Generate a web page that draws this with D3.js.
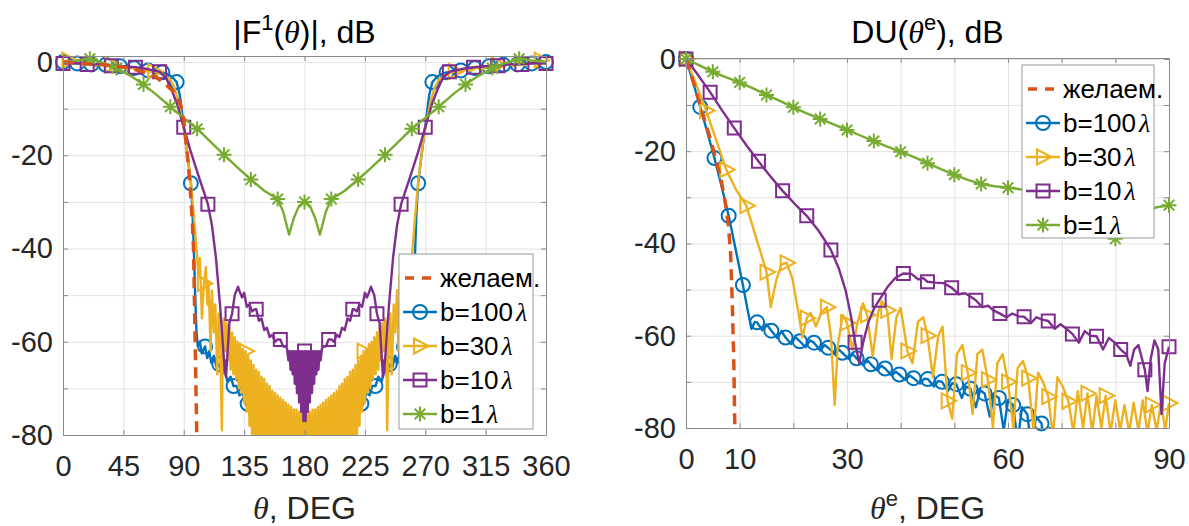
<!DOCTYPE html>
<html>
<head>
<meta charset="utf-8">
<script src="https://cdn.jsdelivr.net/npm/d3@7"></script>
<style>
  body { margin: 0; background: #fff; }
  svg { display: block; font-family: "Liberation Sans", Arial, sans-serif; }
</style>
</head>
<body>
<svg id="chart" width="1189" height="526"></svg>
<script>
// ---- ticks / labels ----
var dbTicks = [-80, -70, -60, -50, -40, -30, -20, -10, 0];
var dbLabels = [-80, -60, -40, -20, 0];
var thetaTicks = [0, 45, 90, 135, 180, 225, 270, 315, 360];
var thetaETicks = [0, 10, 20, 30, 40, 50, 60, 70, 80, 90];
var thetaELabels = [0, 10, 30, 60, 90];
var legendNames = ["желаем.", "b=100λ", "b=30λ", "b=10λ", "b=1λ"];

// ---- left panel: |F1(theta)|, dB ----
var fDesired = [[0,0],[15,-0.3],[30,-0.6],[45,-1.1],[55,-1.7],[62,-2.3],[68,-3],[73,-4],[78,-5.2],[82,-6.2],[85,-7.2],[88,-9.5],[90,-12.5],[92,-18],[94,-24],[95.5,-30],[96.5,-35],[97.3,-40],[98.5,-60],[99.7,-80]];

var f100 = [[0,0],[5,-0.2],[10.6,-0.3],[16,-0.2],[21.2,-0.5],[26,-0.4],[31.8,-0.6],[37,-0.6],[42.4,-0.9],[48,-1],[52.9,-1.3],[58,-1.4],[63.5,-1.8],[69,-1.9],[74.1,-2.2],[78,-2.6],[81,-3.1],[84.7,-4.3],[87,-7],[89,-11.5],[91,-16],[93,-20.5],[95.3,-26],[96.5,-32],[97.5,-40],[98.5,-50],[99.5,-58],[100.5,-61],[102,-60],[103.5,-62.5],[105.9,-61],[107.5,-63.5],[109,-62],[110.5,-64.5],[112.5,-63],[114.5,-65.5],[116.5,-64.8],[118.5,-67],[120.5,-66],[122.5,-68.5],[125,-67.5],[127.1,-69.5],[129.5,-69.5],[131.5,-71.5],[134,-71],[136.5,-73.5],[139,-73],[141.5,-76],[144,-75.5],[146.5,-79],[149,-78.5],[152,-82],[160,-84],[180,-86],[200,-84],[208,-82],[211,-78.5],[213.5,-79],[216,-75.5],[218.5,-76],[221,-73],[223.5,-73.5],[226,-71],[228.5,-71.5],[230.5,-69.5],[232.9,-69.5],[235,-67.5],[237.5,-68.5],[239.5,-66],[241.5,-67],[243.5,-64.8],[245.5,-65.5],[247.5,-63],[249.5,-64.5],[251,-62],[252.5,-63.5],[254.1,-61],[256.5,-62.5],[258,-60],[259.5,-61],[260.5,-58],[261.5,-50],[262.5,-40],[263.5,-32],[264.7,-26],[267,-20.5],[269,-16],[271,-11.5],[273,-7],[275.3,-4.3],[279,-3.1],[282,-2.6],[285.9,-2.2],[291,-1.9],[296.5,-1.8],[302,-1.4],[307.1,-1.3],[312,-1],[317.6,-0.9],[323,-0.6],[328.2,-0.6],[334,-0.4],[338.8,-0.5],[344,-0.2],[349.4,-0.3],[355,-0.2],[360,0]];
var f100Marks = [[0,0],[10.6,-0.3],[21.2,-0.5],[31.8,-0.6],[42.4,-0.9],[52.9,-1.3],[63.5,-1.8],[74.1,-2.2],[84.7,-4.3],[95.3,-26],[105.9,-61],[116.5,-64.8],[127.1,-69.5],[137.6,-73.3],[222.4,-73.3],[232.9,-69.5],[243.5,-64.8],[254.1,-61],[264.7,-26],[275.3,-4.3],[285.9,-2.2],[296.5,-1.8],[307.1,-1.3],[317.6,-0.9],[328.2,-0.6],[338.8,-0.5],[349.4,-0.3],[360,0]];

var f30 = [[0,0],[4,0.4],[8,-0.4],[12,0.1],[16,-0.7],[20,-0.1],[24,-0.9],[28,-0.3],[32,-1],[36,-0.6],[40,-1.3],[44,-0.9],[48,-1.6],[52,-1.2],[56,-1.9],[60,-1.6],[64,-2.1],[68,-2],[72,-2.4],[76,-2.9],[80,-3.8],[83,-5.5],[86,-8.5],[89,-12.5],[92,-18],[95,-25],[97.5,-33],[99.5,-40],[101,-46],[102,-42],[103.5,-55],[105,-47.5],[106.5,-44],[107.5,-52],[108.5,-47],[110,-62],[111,-49],[112.5,-58],[113.5,-52],[115,-67],[116,-54],[117.2,-61],[118.4,-79],[119.2,-56],
  [120,-55],[121,-62],[122,-56],[123,-64],[124,-57],[125,-66],[126,-58],[127,-67],[128,-59],[129,-68],[130,-60],[131,-70],[132,-60.5],[133,-71],[134,-61.5],[135,-73],[136,-62],[137,-75],[138,-63],[139,-78],[140,-64],[141,-82],[142,-65],[143,-84],[144,-66],[145,-85],[146,-66.5],[147,-86],[148,-67.5],[149,-86],[150,-68],[151,-87],[152,-69],[153,-87],[154,-69.5],[155,-88],[156,-70.5],[157,-88],[158,-71],[159,-88],[160,-71.5],[161,-88],[162,-72],[163,-88],[164,-72.5],[165,-88],[166,-73],[167,-88],[168,-73.5],[169,-88],[170,-74],[171,-88],[172,-74.5],[173,-88],[174,-74.5],[175,-88],[176,-75],[177,-88],[178,-75],[179,-88],[180,-75.5],
  [181,-88],[182,-75],[183,-88],[184,-75],[185,-88],[186,-74.5],[187,-88],[188,-74.5],[189,-88],[190,-74],[191,-88],[192,-73.5],[193,-88],[194,-73],[195,-88],[196,-72.5],[197,-88],[198,-72],[199,-88],[200,-71.5],[201,-88],[202,-71],[203,-88],[204,-70.5],[205,-88],[206,-69.5],[207,-87],[208,-69],[209,-87],[210,-68],[211,-86],[212,-67.5],[213,-86],[214,-66.5],[215,-85],[216,-66],[217,-84],[218,-65],[219,-82],[220,-64],[221,-78],[222,-63],[223,-75],[224,-62],[225,-73],[226,-61.5],[227,-71],[228,-60.5],[229,-70],[230,-60],[231,-68],[232,-59],[233,-67],[234,-58],[235,-66],[236,-57],[237,-64],[238,-56],[239,-62],[240,-55],
  [240.8,-56],[241.6,-79],[242.8,-61],[244,-54],[245,-67],[246.5,-52],[247.5,-58],[249,-49],[250,-62],[251.5,-47],[252.5,-52],[253.5,-44],[255,-47.5],[256.5,-55],[258,-42],[259,-46],[260.5,-40],[262.5,-33],[265,-25],[268,-18],[271,-12.5],[274,-8.5],[277,-5.5],[280,-3.8],[284,-2.9],[288,-2.4],[292,-2],[296,-2.1],[300,-1.6],[304,-1.9],[308,-1.2],[312,-1.6],[316,-0.9],[320,-1.3],[324,-0.6],[328,-1],[332,-0.3],[336,-0.9],[340,-0.1],[344,-0.7],[348,0.1],[352,-0.4],[356,0.4],[360,0]];
var f30Marks = [[4,0.4],[36,-0.6],[68,-2],[105,-47.5],[136,-62],[224,-62],[255,-47.5],[292,-2],[324,-0.6],[356,0.4]];

var f10 = [[0,-0.3],[9,-0.2],[18,-0.5],[27,-0.5],[36,-0.8],[45,-0.9],[54,-1.1],[63,-1.5],[72,-2.1],[77,-3.5],[81,-6],[85,-9],[90,-14],[95,-19],[100,-23.5],[104,-27],[108,-30.5],[111,-35],[114,-42],[117,-52],[119,-60],[120.5,-66],[121.5,-67.5],[122.5,-63],[124,-56],[126,-54],[128,-50],[130.5,-48.2],[132,-49.5],[133.5,-50.5],[135,-49.5],[137,-52.5],[139,-52],[141,-53.5],[143,-53],[144,-53],[146,-55.5],[148,-55],[150,-57.5],[152,-57],[154,-59],[156,-58.5],[158,-60],[160,-59.5],[162,-59.5],[164,-61],[166,-61],[167,-61.5],
  [168,-64],[168.8,-62],[169.6,-66],[170.4,-62],[171.2,-67],[172,-62],[172.8,-69],[173.6,-62],[174.4,-71],[175.2,-62],[176,-73],[176.8,-62],[177.6,-75],[178.4,-62],[179.2,-77],[180,-62],[180.8,-77],[181.6,-62],[182.4,-75],[183.2,-62],[184,-73],[184.8,-62],[185.6,-71],[186.4,-62],[187.2,-69],[188,-62],[188.8,-67],[189.6,-62],[190.4,-66],[191.2,-62],[192,-64],
  [193,-61.5],[194,-61],[196,-61],[198,-59.5],[200,-59.5],[202,-60],[204,-58.5],[206,-59],[208,-57],[210,-57.5],[212,-55],[214,-55.5],[216,-53],[217,-53],[219,-53.5],[221,-52],[223,-52.5],[225,-49.5],[226.5,-50.5],[228,-49.5],[229.5,-48.2],[232,-50],[234,-54],[236,-56],[237.5,-63],[238.5,-67.5],[239.5,-66],[241,-60],[243,-52],[246,-42],[249,-35],[252,-30.5],[256,-27],[260,-23.5],[265,-19],[270,-14],[275,-9],[279,-6],[283,-3.5],[288,-2.1],[297,-1.5],[306,-1.1],[315,-0.9],[324,-0.8],[333,-0.5],[342,-0.5],[351,-0.2],[360,-0.3]];
var f10Marks = [[0,-0.3],[18,-0.5],[36,-0.8],[54,-1.1],[72,-2.1],[90,-14],[108,-30.5],[126,-54],[144,-53],[162,-59.5],[180,-62],[198,-59.5],[216,-53],[234,-54],[252,-30.5],[270,-14],[288,-2.1],[306,-1.1],[324,-0.8],[342,-0.5],[360,-0.3]];

var f1 = [[0,0],[10,0.3],[20,0.7],[30,-0.2],[40,-1.3],[50,-2.9],[60,-4.8],[70,-7.1],[80,-9.6],[90,-12],[100,-14.3],[110,-17.1],[120,-19.9],[130,-22.6],[140,-25.2],[150,-27.6],[160,-29.4],[164,-32],[168.5,-37],[172,-33.5],[176,-30.8],[180,-30],[184,-30.8],[188,-33.5],[191.5,-37],[196,-32],[200,-29.4],[210,-27.6],[220,-25.2],[230,-22.6],[240,-19.9],[250,-17.1],[260,-14.3],[270,-12],[280,-9.6],[290,-7.1],[300,-4.8],[310,-2.9],[320,-1.3],[330,-0.2],[340,0.7],[350,0.3],[360,0]];
var f1Marks = [[20,0.7],[40,-1.3],[60,-4.8],[80,-9.6],[100,-14.3],[120,-19.9],[140,-25.2],[160,-29.4],[180,-30],[200,-29.4],[220,-25.2],[240,-19.9],[260,-14.3],[280,-9.6],[300,-4.8],[320,-1.3],[340,0.7]];

// ---- right panel: DU(theta_e), dB ----
var duDesired = [[0,0],[1.5,-5.5],[3,-11.5],[4.5,-17.2],[5.5,-21.5],[6.5,-26],[7.3,-31],[7.9,-36],[8.3,-42],[8.6,-52],[8.9,-65],[9.1,-80]];

var du100 = [[0,0],[1.3,-5],[2.65,-10.4],[4,-16],[5.3,-21.5],[6.6,-27.5],[7.95,-34],[9.2,-41],[10.6,-49],[11.5,-54.5],[12.2,-58.5],[12.8,-57],[13.25,-57.1],[14.2,-58.8],[15,-57.5],[15.9,-58.9],[17,-60.5],[17.8,-59],[18.55,-60.4],[19.6,-61.8],[20.4,-60.3],[21.2,-61.2],[22.3,-62.5],[23.1,-61],[23.85,-61.5],[25,-63.2],[25.8,-62],[26.5,-62.6],[27.7,-64],[28.5,-63],[29.15,-63.7],[30.3,-65],[31.1,-64],[31.8,-64.9],[33,-66.4],[33.8,-65.3],[34.45,-66.2],[35.6,-67.5],[36.4,-66.5],[37.1,-67.1],[38.3,-68.6],[39.1,-67.8],[39.75,-68.4],[40.9,-69.6],[41.7,-68.6],[42.4,-69.2],[43.6,-70.4],[44.4,-69.3],[45.05,-69.4],[46.2,-71],[47,-69.8],[47.7,-70],[48.8,-72],[49.6,-70.3],[50.35,-70.5],[51.4,-73.5],[52.2,-71],[53,-71.5],[54,-75.5],[54.8,-71.8],[55.65,-72.5],[56.6,-77.5],[57.4,-72.8],[58.3,-73.5],[59.2,-80.5],[60,-74],[60.95,-75],[61.8,-83],[62.6,-75.5],[63.6,-77],[64.4,-85],[65.2,-77.5],[66.25,-79],[67,-87],[67.8,-80],[69,-88],[72,-90],[80,-92],[90,-92]];
var du100Marks = [[0,0],[2.65,-10.4],[5.3,-21.5],[7.95,-34],[10.6,-49],[13.25,-57.1],[15.9,-58.9],[18.55,-60.4],[21.2,-61.2],[23.85,-61.5],[26.5,-62.6],[29.15,-63.7],[31.8,-64.9],[34.45,-66.2],[37.1,-67.1],[39.75,-68.4],[42.4,-69.2],[45.05,-69.4],[47.7,-70],[50.35,-70.5],[53,-71.5],[55.65,-72.5],[58.3,-73.5],[60.95,-75],[63.6,-77],[66.25,-79]];

var du30 = [[0,0],[1.9,-5.5],[3.75,-11.2],[5.6,-17.5],[7.5,-24],[9.4,-28.5],[11.25,-31.8],[13,-38.5],[14.2,-43],[15,-46.2],[15.8,-53.8],[16.8,-48],[17.8,-44.5],[18.75,-44.2],[19.8,-47.5],[20.8,-54],[21.7,-60.4],[22.5,-56.2],[23.2,-55],[24.2,-58],[25.2,-55],[26.25,-53.8],[27,-60],[27.7,-75],[28.3,-62],[29.2,-55.5],[30,-57.2],[31,-63],[32,-57],[33,-53],[33.75,-55.5],[34.8,-64.5],[35.8,-55],[36.5,-52.5],[37.5,-54.5],[38.3,-65],[39.2,-56],[40,-54],[41.25,-63.3],[42.2,-66],[43.2,-57],[44.2,-56],[45,-60],[46,-69],[47,-60],[47.8,-58],[48.75,-74.1],[49.6,-78],[50.5,-64],[51.5,-62],[52.5,-68],[53.4,-77],[54.3,-64],[55.2,-63],[56.25,-69.5],[57.2,-80],[58,-66],[59,-64],[60,-70],[61,-80],[61.8,-67],[62.8,-65.5],[63.75,-69.2],[64.8,-81],[65.6,-68],[66.5,-70],[67.5,-73.2],[68.4,-82],[69.2,-69],[70.2,-71],[71.25,-74.2],[72.2,-81],[73,-72],[74,-80],[74.8,-72.5],[75.7,-81],[76.5,-73],[77.4,-80],[78.2,-73],[79.1,-81],[80,-74],[80.9,-80.5],[81.7,-75],[82.6,-81],[83.4,-74.5],[84.3,-80.5],[85.1,-74],[86,-81],[86.8,-75],[87.7,-80.5],[88.5,-74.5],[89.3,-80.5],[90,-74.6]];
var du30Marks = [[0,0],[3.75,-11.2],[7.5,-24],[11.25,-31.8],[15,-46.2],[18.75,-44.2],[22.5,-56.2],[26.25,-53.8],[30,-57.2],[33.75,-55.5],[37.5,-54.5],[41.25,-63.3],[45,-60],[48.75,-74.1],[52.5,-68],[56.25,-69.5],[60,-70],[63.75,-69.2],[67.5,-73.2],[71.25,-74.2],[74.8,-72.5],[78.2,-73],[86.8,-75],[90,-74.6]];

var du10 = [[0,0],[2.25,-3.5],[4.5,-7.2],[6.75,-11.2],[9,-15],[11.25,-18.7],[13.5,-22.2],[15.75,-25.5],[18,-28.6],[20.25,-31.4],[22.5,-34],[24.75,-37.3],[27,-41.4],[28.5,-45.5],[29.7,-50],[30.7,-55.5],[31.5,-61.4],[32.3,-66],[33,-61.5],[34,-57],[35,-54.2],[36,-52.3],[37.5,-49.5],[39,-47.5],[40.5,-46.5],[42,-46.6],[43.3,-47.8],[44.2,-47.5],[45,-48.3],[46.5,-48.5],[48,-48.6],[49.5,-49.6],[50.8,-51],[52,-50.8],[53,-51.5],[54,-52.3],[55.2,-53.8],[56.3,-53.5],[57.3,-54.5],[58.5,-55.2],[59.7,-56],[60.8,-55.2],[62,-55.8],[63,-55.9],[64.3,-57.2],[65.3,-56],[66.4,-56.5],[67.5,-56.8],[68.7,-58.5],[69.8,-57.5],[70.9,-58.5],[72,-59.6],[73.2,-61.5],[74.3,-59],[75.4,-60],[76.5,-60.1],[77.7,-63],[78.8,-60.5],[79.9,-61.5],[81,-63],[82,-64],[82.8,-66.5],[83.5,-63],[84.3,-62],[85.5,-67.4],[86,-72],[86.6,-65],[87.3,-61],[88,-63],[88.6,-77],[89.2,-66],[90,-62.4]];
var du10Marks = [[0,0],[4.5,-7.2],[9,-15],[13.5,-22.2],[18,-28.6],[22.5,-34],[27,-41.4],[31.5,-61.4],[36,-52.3],[40.5,-46.5],[45,-48.3],[49.5,-49.6],[54,-52.3],[58.5,-55.2],[63,-55.9],[67.5,-56.8],[72,-59.6],[76.5,-60.1],[81,-63],[85.5,-67.4],[90,-62.4]];

var du1 = [[0,0],[2.5,-1.4],[5,-2.8],[7.5,-4],[10,-5.1],[12.5,-6.4],[15,-7.8],[17.5,-9.1],[20,-10.5],[22.5,-11.8],[25,-13],[27.5,-14.2],[30,-15.4],[32.5,-16.6],[35,-17.8],[37.5,-19],[40,-20.1],[42.5,-21.3],[45,-22.6],[47.5,-23.9],[50,-25.1],[52.5,-26.2],[55,-27.1],[57.5,-27.6],[60,-27.9],[62.5,-28.3],[65,-29.5],[70,-32.5],[75,-36],[80,-39],[82.5,-37.5],[85,-34],[87.5,-32.2],[90,-31.7]];
var du1Marks = [[0,0],[5,-2.8],[10,-5.1],[15,-7.8],[20,-10.5],[25,-13],[30,-15.4],[35,-17.8],[40,-20.1],[45,-22.6],[50,-25.1],[55,-27.1],[60,-27.9],[65,-29.5],[70,-32.5],[75,-36],[80,-39],[85,-34],[90,-31.7]];

// ---- styles ----
var colRed = "#D95319", colBlue = "#0072BD", colYellow = "#EDB120", colPurple = "#7E2F8E", colGreen = "#77AC30";
var axisColor = "#8a8a8a", gridColor = "#e3e3e3", textColor = "#262626";
var markerPath = {
    circle: "M7,0A7,7 0 1,1 -7,0A7,7 0 1,1 7,0Z",
    tri: "M-6,-7.5L8.5,0L-6,7.5Z",
    square: "M-6.5,-6.5H6.5V6.5H-6.5Z",
    star: "M-7.5,0H7.5M0,-7.5V7.5M-5.3,-5.3L5.3,5.3M-5.3,5.3L5.3,-5.3",
    none: ""
};

var svg = d3.select("#chart");

function richText(sel, parts, size) {
    var shift = 0;
    parts.forEach(function (p) {
        var t = sel.append("tspan").text(p.t);
        var target = p.sup ? -Math.round(size * 0.42) : 0;
        if (target !== shift) { t.attr("dy", target - shift); shift = target; }
        if (p.sup) t.attr("font-size", Math.round(size * 0.68));
        if (p.it) t.attr("font-family", "'Liberation Serif', 'DejaVu Serif', serif").attr("font-style", "italic");
        if (p.dx) t.attr("dx", p.dx);
    });
}

function drawPanel(p) {
    var x = d3.scaleLinear().domain(p.xDomain).range([p.x0, p.x1]);
    var y = d3.scaleLinear().domain(p.yDomain).range([p.y1, p.y0]);
    var w = p.x1 - p.x0, h = p.y1 - p.y0;
    var g = svg.append("g");

    // grid
    g.append("g").attr("transform", "translate(0," + p.y1 + ")")
        .call(d3.axisBottom(x).tickValues(p.xTicks).tickSize(-h).tickFormat(""))
        .call(function (a) { a.select(".domain").remove(); a.selectAll("line").attr("stroke", gridColor); });
    g.append("g").attr("transform", "translate(" + p.x0 + ",0)")
        .call(d3.axisLeft(y).tickValues(dbTicks).tickSize(-w).tickFormat(""))
        .call(function (a) { a.select(".domain").remove(); a.selectAll("line").attr("stroke", gridColor); });

    g.append("clipPath").attr("id", "clip" + p.id)
        .append("rect").attr("x", p.x0).attr("y", p.y0).attr("width", w).attr("height", h);

    var line = d3.line().x(function (d) { return x(d[0]); }).y(function (d) { return y(d[1]); });

    p.series.forEach(function (s) {
        g.append("path").datum(s.line)
            .attr("d", line)
            .attr("clip-path", "url(#clip" + p.id + ")")
            .attr("fill", "none")
            .attr("stroke", s.color)
            .attr("stroke-width", s.dash ? 3.5 : 2.4)
            .attr("stroke-dasharray", s.dash ? "11,7" : null)
            .attr("stroke-linejoin", "round");
        if (s.marks) {
            g.append("g").selectAll("path")
                .data(s.marks.filter(function (d) { return d[1] >= p.yDomain[0]; }))
                .enter().append("path")
                .attr("transform", function (d) { return "translate(" + x(d[0]) + "," + y(d[1]) + ")"; })
                .attr("d", markerPath[s.marker])
                .attr("fill", "none")
                .attr("stroke", s.color)
                .attr("stroke-width", 2);
        }
    });

    // box axes with inward ticks
    function styleAxis(a) {
        a.attr("font-size", null).attr("font-family", null);
        a.select(".domain").attr("stroke", axisColor);
        a.selectAll(".tick line").attr("stroke", axisColor);
        a.selectAll("text").attr("fill", textColor).style("font-size", "29px");
    }
    g.append("g").attr("transform", "translate(0," + p.y1 + ")")
        .call(d3.axisBottom(x).tickValues(p.xTicks).tickSize(-5).tickSizeOuter(0).tickPadding(20)
            .tickFormat(function (d) { return p.xLabels.indexOf(d) >= 0 ? String(d) : ""; }))
        .call(styleAxis);
    g.append("g").attr("transform", "translate(0," + p.y0 + ")")
        .call(d3.axisTop(x).tickValues(p.xTicks).tickSize(-5).tickSizeOuter(0).tickFormat(""))
        .call(styleAxis);
    g.append("g").attr("transform", "translate(" + p.x0 + ",0)")
        .call(d3.axisLeft(y).tickValues(dbTicks).tickSize(-5).tickSizeOuter(0).tickPadding(10)
            .tickFormat(function (d) { return dbLabels.indexOf(d) >= 0 ? String(d) : ""; }))
        .call(styleAxis);
    g.append("g").attr("transform", "translate(" + p.x1 + ",0)")
        .call(d3.axisRight(y).tickValues(dbTicks).tickSize(-5).tickSizeOuter(0).tickFormat(""))
        .call(styleAxis);

    // title and x label
    var cx = (p.x0 + p.x1) / 2;
    richText(g.append("text").attr("x", cx).attr("y", 43).attr("text-anchor", "middle")
        .attr("font-size", 32).attr("fill", "#000"), p.title, 32);
    richText(g.append("text").attr("x", cx).attr("y", 519).attr("text-anchor", "middle")
        .attr("font-size", 32).attr("fill", textColor), p.xLabel, 32);

    // legend
    var L = p.legend;
    g.append("rect").attr("x", L.x0).attr("y", L.y0).attr("width", L.x1 - L.x0).attr("height", L.y1 - L.y0)
        .attr("fill", "#fff").attr("stroke", "#9a9a9a").attr("stroke-width", 1);
    var order = [p.series[4], p.series[0], p.series[1], p.series[2], p.series[3]];
    order.forEach(function (s, i) {
        var ry = L.y0 + 24 + i * 34;
        if (s.dash) {
            g.append("line").attr("x1", L.x0 + 6).attr("x2", L.x0 + 36).attr("y1", ry).attr("y2", ry)
                .attr("stroke", s.color).attr("stroke-width", 3.5).attr("stroke-dasharray", "9,8");
        } else {
            g.append("line").attr("x1", L.x0 + 4).attr("x2", L.x0 + 38).attr("y1", ry).attr("y2", ry)
                .attr("stroke", s.color).attr("stroke-width", 2.4);
            g.append("path").attr("transform", "translate(" + (L.x0 + 21) + "," + ry + ")")
                .attr("d", markerPath[s.marker]).attr("fill", "none")
                .attr("stroke", s.color).attr("stroke-width", 2);
        }
        var name = legendNames[i];
        var parts = name.slice(-1) === "λ"
            ? [{ t: name.slice(0, -1) }, { t: "λ", it: true, dx: 3 }]
            : [{ t: name }];
        richText(g.append("text").attr("x", L.x0 + 41).attr("y", ry + 9)
            .attr("font-size", 26).attr("fill", "#000"), parts, 26);
    });
}

drawPanel({
    id: "L", x0: 63, x1: 546, y0: 56, y1: 435,
    xDomain: [0, 360], yDomain: [-80, 1.3],
    xTicks: thetaTicks, xLabels: thetaTicks,
    title: [{ t: "|F" }, { t: "1", sup: true }, { t: "(" }, { t: "θ", it: true }, { t: ")|, dB" }],
    xLabel: [{ t: "θ", it: true }, { t: ", DEG" }],
    legend: { x0: 399, x1: 533, y0: 254, y1: 429 },
    series: [
        { line: f100, marks: f100Marks, color: colBlue, marker: "circle" },
        { line: f30, marks: f30Marks, color: colYellow, marker: "tri" },
        { line: f10, marks: f10Marks, color: colPurple, marker: "square" },
        { line: f1, marks: f1Marks, color: colGreen, marker: "star" },
        { line: fDesired, color: colRed, dash: true, marker: "none" }
    ]
});

drawPanel({
    id: "R", x0: 686, x1: 1169, y0: 58, y1: 428,
    xDomain: [0, 90], yDomain: [-80, 0.2],
    xTicks: thetaETicks, xLabels: thetaELabels,
    title: [{ t: "DU(" }, { t: "θ", it: true }, { t: "e", sup: true }, { t: "), dB" }],
    xLabel: [{ t: "θ", it: true }, { t: "e", sup: true }, { t: ", DEG" }],
    legend: { x0: 1022, x1: 1154, y0: 65, y1: 238 },
    series: [
        { line: du100, marks: du100Marks, color: colBlue, marker: "circle" },
        { line: du30, marks: du30Marks, color: colYellow, marker: "tri" },
        { line: du10, marks: du10Marks, color: colPurple, marker: "square" },
        { line: du1, marks: du1Marks, color: colGreen, marker: "star" },
        { line: duDesired, color: colRed, dash: true, marker: "none" }
    ]
});
</script>
</body>
</html>
